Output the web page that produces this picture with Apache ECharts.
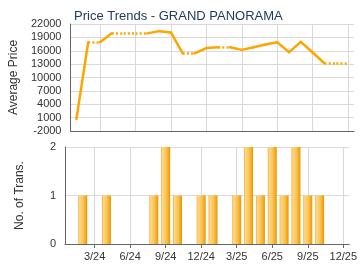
<!DOCTYPE html>
<html>
<head>
<meta charset="utf-8">
<script src="https://cdn.jsdelivr.net/npm/echarts@6/dist/echarts.min.js"></script>
<style>
html,body{margin:0;padding:0;background:#fff;}
#chart{width:360px;height:270px;}
</style>
</head>
<body>
<div id="chart"></div>
<script>
var months = ["1/24","2/24","3/24","4/24","5/24","6/24","7/24","8/24","9/24","10/24","11/24","12/24",
              "1/25","2/25","3/25","4/25","5/25","6/25","7/25","8/25","9/25","10/25","11/25","12/25"];
var avgPrice = [700,17900,17900,19900,19900,19900,19900,20400,20100,15400,15400,16600,
                16800,16800,16200,16800,17400,17900,15700,18000,15600,13200,13200,13200];
var transCount = [0,1,0,1,0,0,0,1,2,1,0,1,1,0,1,2,1,2,1,2,1,1,0,0];
var priceTicks = [-2000,1000,4000,7000,10000,13000,16000,19000,22000];
var countTicks = [0,1,2];

var FONT = 'Liberation Sans, Arial, sans-serif';
var LINE_COLOR = '#FFA500';
var GRID_COLOR = '#d9d9d9';
var AXIS_COLOR = '#666666';

function showEvery3(index){ return index % 3 === 2; }

var segs = [];
for (var i = 0; i < avgPrice.length - 1; i++) {
  var solid = transCount[i + 1] > 0;
  segs.push({
    coords: [[i, avgPrice[i]], [i + 1, avgPrice[i + 1]]],
    lineStyle: solid ? {type: 'solid', cap: 'round', join: 'round'} : {type: [2, 2.2], cap: 'butt'}
  });
}

var chart = echarts.init(document.getElementById('chart'), null, {renderer: 'canvas'});
chart.setOption({
  animation: false,
  backgroundColor: '#ffffff',
  title: {
    text: 'Price Trends - GRAND PANORAMA',
    left: 69, top: 5,
    textStyle: {fontFamily: FONT, fontSize: 13, fontWeight: 'normal', color: '#1f3b63'}
  },
  grid: [
    {left: 65, right: 6, top: 24, height: 107},
    {left: 65, right: 6, top: 147, height: 97}
  ],
  xAxis: [
    {
      type: 'category', gridIndex: 0, data: months, boundaryGap: true,
      axisLine: {onZero: false, lineStyle: {color: AXIS_COLOR, width: 1}},
      axisTick: {show: false},
      axisLabel: {show: false},
      splitLine: {show: true, interval: function(i){return showEvery3(i);}, alignWithLabel: true, lineStyle: {color: GRID_COLOR}}
    },
    {
      type: 'category', gridIndex: 1, data: months, boundaryGap: true,
      axisLine: {onZero: false, lineStyle: {color: AXIS_COLOR, width: 1}},
      axisTick: {show: true, alignWithLabel: true, interval: function(i){return showEvery3(i);}, length: 4, lineStyle: {color: AXIS_COLOR}},
      axisLabel: {show: true, interval: function(i){return showEvery3(i);}, fontFamily: FONT, fontSize: 11, color: '#333', margin: 7},
      splitLine: {show: true, interval: function(i){return showEvery3(i);}, alignWithLabel: true, lineStyle: {color: GRID_COLOR}}
    }
  ],
  yAxis: [
    {
      type: 'value', gridIndex: 0, min: -2000, max: 22000,
      name: 'Average Price', nameLocation: 'middle', nameGap: 39,
      nameTextStyle: {fontFamily: FONT, fontSize: 12, color: '#333'},
      axisLine: {show: true, lineStyle: {color: AXIS_COLOR}},
      axisTick: {show: false, customValues: priceTicks},
      axisLabel: {customValues: priceTicks, fontFamily: FONT, fontSize: 11, color: '#333', margin: 9,
        formatter: function(v){ return String(v); }},
      splitLine: {show: true, lineStyle: {color: GRID_COLOR}}
    },
    {
      type: 'value', gridIndex: 1, min: 0, max: 2, interval: 1,
      name: 'No. of Trans.', nameLocation: 'middle', nameGap: 39,
      nameTextStyle: {fontFamily: FONT, fontSize: 12, color: '#333'},
      axisLine: {show: true, lineStyle: {color: AXIS_COLOR}},
      axisTick: {show: false},
      axisLabel: {fontFamily: FONT, fontSize: 11, color: '#333', margin: 9,
        formatter: function(v){ return countTicks.indexOf(v) >= 0 ? String(v) : ''; }},
      splitLine: {show: true, lineStyle: {color: GRID_COLOR}}
    }
  ],
  series: [
    {
      type: 'lines', coordinateSystem: 'cartesian2d', xAxisIndex: 0, yAxisIndex: 0,
      silent: true, polyline: false,
      lineStyle: {color: LINE_COLOR, width: 2.5, opacity: 1},
      data: segs
    },
    {
      type: 'bar', xAxisIndex: 1, yAxisIndex: 1, barWidth: 9,
      data: transCount,
      itemStyle: {
        color: new echarts.graphic.LinearGradient(0, 0, 1, 0, [
          {offset: 0, color: '#f3ad2a'},
          {offset: 0.15, color: '#fdd78e'},
          {offset: 0.55, color: '#fbc452'},
          {offset: 0.85, color: '#f2a51c'},
          {offset: 1, color: '#e89800'}
        ])
      }
    }
  ]
});
</script>
</body>
</html>
